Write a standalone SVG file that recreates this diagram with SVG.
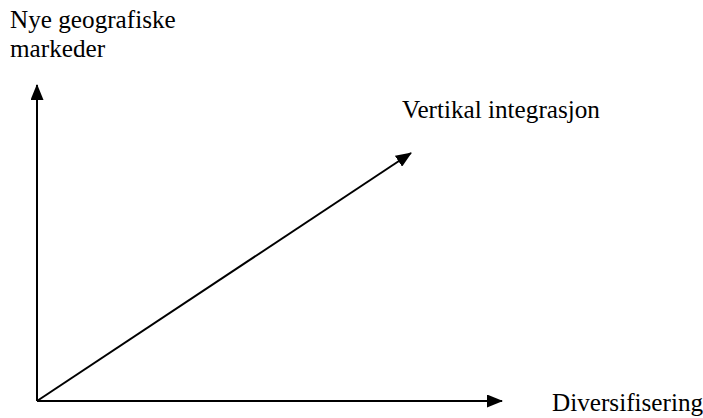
<svg xmlns="http://www.w3.org/2000/svg" width="703" height="418" viewBox="0 0 703 418">
<style>
text{font-family:"Liberation Serif","Times New Roman",serif;font-size:25.2px;fill:#000}
.ax{stroke:#000;stroke-width:2;fill:none}
</style>
<defs>
<marker id="ah" markerWidth="16" markerHeight="13" refX="15" refY="6.5" orient="auto" markerUnits="userSpaceOnUse">
<path d="M0,0 L16,6.5 L0,13 Z" fill="#000"/>
</marker>
</defs>
<g id="connectors">
<line class="ax" x1="37" y1="401" x2="37" y2="85" marker-end="url(#ah)"/>
<line class="ax" x1="37" y1="401" x2="502" y2="401" marker-end="url(#ah)"/>
<line class="ax" x1="37" y1="401" x2="411" y2="153" marker-end="url(#ah)"/>
</g>
<g id="label-y"><text x="10" y="28">Nye geografiske</text><text x="10" y="57">markeder</text></g>
<g id="label-diag"><text x="402" y="118">Vertikal integrasjon</text></g>
<g id="label-x"><text x="552" y="411">Diversifisering</text></g>
</svg>
